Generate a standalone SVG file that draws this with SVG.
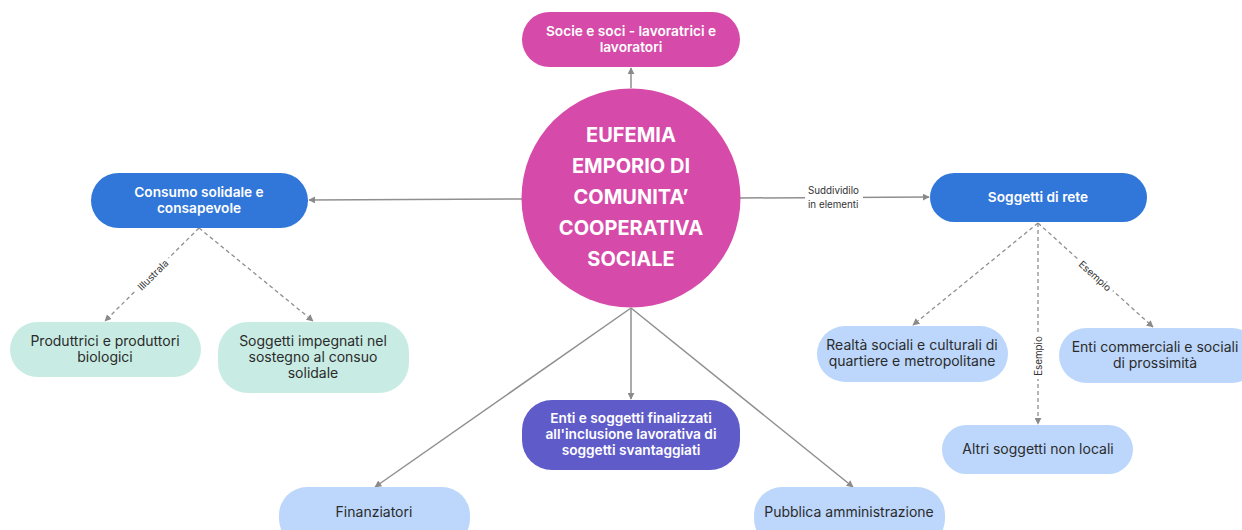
<svg xmlns="http://www.w3.org/2000/svg" width="1242" height="530" viewBox="0 0 1242 530">
<defs>
<marker id="ah" viewBox="0 0 10 10" refX="9" refY="5" markerWidth="7" markerHeight="7" markerUnits="userSpaceOnUse" orient="auto">
<path d="M0,0 L10,5 L0,10 z" fill="#8a8a8a"/>
</marker>
<style>
.e{stroke:#8f8f8f;stroke-width:1.5;fill:none;marker-end:url(#ah)}
.d{stroke:#8f8f8f;stroke-width:1.3;fill:none;stroke-dasharray:4 3;marker-end:url(#ah)}
.lb{font-family:Inter,"Liberation Sans",sans-serif;font-size:9.8px;fill:#333}
.bg{fill:#fff}
text{font-family:Inter,"Liberation Sans",sans-serif}
.w{fill:#fff;font-size:13.7px;font-weight:600;text-anchor:middle}
.k{fill:#2b2b2b;font-size:14px;text-anchor:middle}
.c{fill:#fff;font-size:20px;font-weight:700;text-anchor:middle}
.pink{fill:#d64aa9}
.blue{fill:#3176d9}
.lblue{fill:#bcd7fb}
.mint{fill:#c8ece3}
.purple{fill:#5f5bc9}
</style>
</defs>
<rect width="1242" height="530" fill="#fff"/>
<g id="connectors">
<line class="e" x1="631" y1="88" x2="631" y2="68"/>
<line class="e" x1="522" y1="199" x2="309" y2="200"/>
<line class="e" x1="740" y1="198" x2="929" y2="197"/>
<line class="e" x1="631" y1="308" x2="631" y2="399"/>
<line class="e" x1="631" y1="308" x2="375" y2="487"/>
<line class="e" x1="631" y1="308" x2="853" y2="487"/>
<line class="d" x1="199" y1="228" x2="105" y2="321"/>
<line class="d" x1="199" y1="228" x2="313" y2="321"/>
<line class="d" x1="1038" y1="223" x2="913" y2="325"/>
<line class="d" x1="1038" y1="223" x2="1038" y2="424"/>
<line class="d" x1="1038" y1="223" x2="1153" y2="327"/>
<rect class="bg" x="805" y="183" width="58" height="27"/>
<text class="lb" x="808" y="194">Suddividilo</text>
<text class="lb" x="808" y="208">in elementi</text>
<g transform="translate(153,275) rotate(-45)"><rect class="bg" x="-23" y="-7" width="46" height="14"/><text class="lb" x="0" y="3.5" text-anchor="middle" font-size="9">Illustrala</text></g>
<g transform="translate(1038,356) rotate(-90)"><rect class="bg" x="-23" y="-7" width="46" height="14"/><text class="lb" x="0" y="3.5" text-anchor="middle" font-size="9">Esempio</text></g>
<g transform="translate(1095,276) rotate(42)"><rect class="bg" x="-23" y="-7" width="46" height="14"/><text class="lb" x="0" y="3.5" text-anchor="middle" font-size="9">Esempio</text></g>
</g>
<g id="top">
<rect class="pink" x="522" y="12" width="218" height="55" rx="27.5"/>
<text class="w" x="631" y="36">Socie e soci - lavoratrici e</text>
<text class="w" x="631" y="52">lavoratori</text>
</g>
<g id="center">
<circle class="pink" cx="631" cy="198" r="109.5"/>
<text class="c" x="631" y="142">EUFEMIA</text>
<text class="c" x="631" y="173">EMPORIO DI</text>
<text class="c" x="631" y="204">COMUNITA’</text>
<text class="c" x="631" y="235">COOPERATIVA</text>
<text class="c" x="631" y="266">SOCIALE</text>
</g>
<g id="consumo">
<rect class="blue" x="91" y="173" width="217" height="55" rx="27.5"/>
<text class="w" x="199" y="197">Consumo solidale e</text>
<text class="w" x="199" y="213">consapevole</text>
</g>
<g id="rete">
<rect class="blue" x="930" y="173" width="217" height="49" rx="24.5"/>
<text class="w" x="1038" y="202">Soggetti di rete</text>
</g>
<g id="produttori">
<rect class="mint" x="10" y="322" width="191" height="55" rx="27.5"/>
<text class="k" x="105" y="346">Produttrici e produttori</text>
<text class="k" x="105" y="362">biologici</text>
</g>
<g id="impegnati">
<rect class="mint" x="218" y="322" width="191" height="71" rx="30"/>
<text class="k" x="313" y="346">Soggetti impegnati nel</text>
<text class="k" x="313" y="362">sostegno al consuo</text>
<text class="k" x="313" y="378">solidale</text>
</g>
<g id="realta">
<rect class="lblue" x="817" y="326" width="191" height="56" rx="28"/>
<text class="k" x="912" y="350">Realtà sociali e culturali di</text>
<text class="k" x="912" y="366">quartiere e metropolitane</text>
</g>
<g id="enti-comm">
<rect class="lblue" x="1059" y="328" width="200" height="55" rx="27.5"/>
<text class="k" x="1155" y="352">Enti commerciali e sociali</text>
<text class="k" x="1155" y="368">di prossimità</text>
</g>
<g id="altri">
<rect class="lblue" x="942" y="425" width="191" height="49" rx="24.5"/>
<text class="k" x="1038" y="454">Altri soggetti non locali</text>
</g>
<g id="inclusione">
<rect class="purple" x="522" y="400" width="218" height="70" rx="30"/>
<text class="w" x="631" y="423">Enti e soggetti finalizzati</text>
<text class="w" x="631" y="439">all'inclusione lavorativa di</text>
<text class="w" x="631" y="455">soggetti svantaggiati</text>
</g>
<g id="finanziatori">
<rect class="lblue" x="279" y="487" width="191" height="60" rx="28"/>
<text class="k" x="374" y="517">Finanziatori</text>
</g>
<g id="pa">
<rect class="lblue" x="754" y="487" width="191" height="60" rx="28"/>
<text class="k" x="849" y="517">Pubblica amministrazione</text>
</g>
</svg>
